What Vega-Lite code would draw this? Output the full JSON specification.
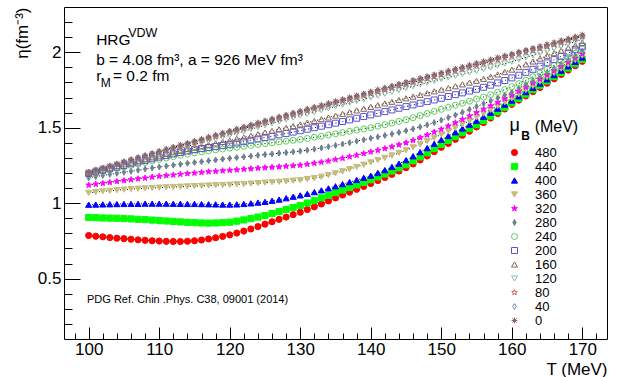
{
"$schema": "https://vega.github.io/schema/vega-lite/v6.json",
"width": 543,
"height": 332,
"autosize": {"type": "none"},
"padding": {"left": 64, "top": 7, "right": 10, "bottom": 38},
"background": "white",
"config": {
  "font": "Liberation Sans",
  "view": {"stroke": "#000000", "strokeWidth": 1},
  "axis": {"domain": false, "grid": false, "labelFont": "Liberation Sans", "labelFontSize": 17, "labelColor": "#000000", "tickColor": "#000000", "tickWidth": 1, "titleFont": "Liberation Sans", "titleFontSize": 17, "titleFontWeight": "normal", "titleColor": "#000000"},
  "legend": {"labelFont": "Liberation Sans", "labelFontSize": 13, "labelColor": "#000000", "symbolStrokeWidth": 1, "rowPadding": 0, "labelOffset": 14, "padding": 0, "labelLimit": 0}
},
"resolve": {"axis": {"x": "independent", "y": "independent"}},
"datasets": {
"curves": [
{"T":100,"mu":480,"eta":0.786},{"T":101,"mu":480,"eta":0.781},{"T":102,"mu":480,"eta":0.777},{"T":103,"mu":480,"eta":0.772},{"T":104,"mu":480,"eta":0.768},{"T":105,"mu":480,"eta":0.765},{"T":106,"mu":480,"eta":0.761},{"T":107,"mu":480,"eta":0.757},{"T":108,"mu":480,"eta":0.754},{"T":109,"mu":480,"eta":0.751},{"T":110,"mu":480,"eta":0.749},{"T":111,"mu":480,"eta":0.747},{"T":112,"mu":480,"eta":0.746},{"T":113,"mu":480,"eta":0.746},{"T":114,"mu":480,"eta":0.748},{"T":115,"mu":480,"eta":0.751},{"T":116,"mu":480,"eta":0.756},{"T":117,"mu":480,"eta":0.763},{"T":118,"mu":480,"eta":0.771},{"T":119,"mu":480,"eta":0.780},{"T":120,"mu":480,"eta":0.790},{"T":121,"mu":480,"eta":0.802},{"T":122,"mu":480,"eta":0.815},{"T":123,"mu":480,"eta":0.829},{"T":124,"mu":480,"eta":0.845},{"T":125,"mu":480,"eta":0.861},{"T":126,"mu":480,"eta":0.877},{"T":127,"mu":480,"eta":0.893},{"T":128,"mu":480,"eta":0.908},{"T":129,"mu":480,"eta":0.924},{"T":130,"mu":480,"eta":0.940},{"T":131,"mu":480,"eta":0.958},{"T":132,"mu":480,"eta":0.976},{"T":133,"mu":480,"eta":0.995},{"T":134,"mu":480,"eta":1.015},{"T":135,"mu":480,"eta":1.035},{"T":136,"mu":480,"eta":1.054},{"T":137,"mu":480,"eta":1.073},{"T":138,"mu":480,"eta":1.092},{"T":139,"mu":480,"eta":1.111},{"T":140,"mu":480,"eta":1.130},{"T":141,"mu":480,"eta":1.150},{"T":142,"mu":480,"eta":1.170},{"T":143,"mu":480,"eta":1.191},{"T":144,"mu":480,"eta":1.213},{"T":145,"mu":480,"eta":1.235},{"T":146,"mu":480,"eta":1.260},{"T":147,"mu":480,"eta":1.286},{"T":148,"mu":480,"eta":1.313},{"T":149,"mu":480,"eta":1.341},{"T":150,"mu":480,"eta":1.370},{"T":151,"mu":480,"eta":1.396},{"T":152,"mu":480,"eta":1.423},{"T":153,"mu":480,"eta":1.450},{"T":154,"mu":480,"eta":1.477},{"T":155,"mu":480,"eta":1.505},{"T":156,"mu":480,"eta":1.534},{"T":157,"mu":480,"eta":1.564},{"T":158,"mu":480,"eta":1.594},{"T":159,"mu":480,"eta":1.624},{"T":160,"mu":480,"eta":1.655},{"T":161,"mu":480,"eta":1.683},{"T":162,"mu":480,"eta":1.711},{"T":163,"mu":480,"eta":1.739},{"T":164,"mu":480,"eta":1.767},{"T":165,"mu":480,"eta":1.795},{"T":166,"mu":480,"eta":1.824},{"T":167,"mu":480,"eta":1.853},{"T":168,"mu":480,"eta":1.882},{"T":169,"mu":480,"eta":1.911},{"T":170,"mu":480,"eta":1.940},
{"T":100,"mu":440,"eta":0.905},{"T":101,"mu":440,"eta":0.904},{"T":102,"mu":440,"eta":0.902},{"T":103,"mu":440,"eta":0.901},{"T":104,"mu":440,"eta":0.900},{"T":105,"mu":440,"eta":0.898},{"T":106,"mu":440,"eta":0.896},{"T":107,"mu":440,"eta":0.893},{"T":108,"mu":440,"eta":0.891},{"T":109,"mu":440,"eta":0.888},{"T":110,"mu":440,"eta":0.885},{"T":111,"mu":440,"eta":0.882},{"T":112,"mu":440,"eta":0.879},{"T":113,"mu":440,"eta":0.876},{"T":114,"mu":440,"eta":0.873},{"T":115,"mu":440,"eta":0.871},{"T":116,"mu":440,"eta":0.869},{"T":117,"mu":440,"eta":0.868},{"T":118,"mu":440,"eta":0.869},{"T":119,"mu":440,"eta":0.871},{"T":120,"mu":440,"eta":0.874},{"T":121,"mu":440,"eta":0.881},{"T":122,"mu":440,"eta":0.889},{"T":123,"mu":440,"eta":0.898},{"T":124,"mu":440,"eta":0.908},{"T":125,"mu":440,"eta":0.918},{"T":126,"mu":440,"eta":0.931},{"T":127,"mu":440,"eta":0.944},{"T":128,"mu":440,"eta":0.958},{"T":129,"mu":440,"eta":0.971},{"T":130,"mu":440,"eta":0.985},{"T":131,"mu":440,"eta":1.001},{"T":132,"mu":440,"eta":1.018},{"T":133,"mu":440,"eta":1.035},{"T":134,"mu":440,"eta":1.052},{"T":135,"mu":440,"eta":1.070},{"T":136,"mu":440,"eta":1.087},{"T":137,"mu":440,"eta":1.104},{"T":138,"mu":440,"eta":1.121},{"T":139,"mu":440,"eta":1.138},{"T":140,"mu":440,"eta":1.155},{"T":141,"mu":440,"eta":1.174},{"T":142,"mu":440,"eta":1.193},{"T":143,"mu":440,"eta":1.213},{"T":144,"mu":440,"eta":1.234},{"T":145,"mu":440,"eta":1.255},{"T":146,"mu":440,"eta":1.281},{"T":147,"mu":440,"eta":1.307},{"T":148,"mu":440,"eta":1.334},{"T":149,"mu":440,"eta":1.362},{"T":150,"mu":440,"eta":1.390},{"T":151,"mu":440,"eta":1.416},{"T":152,"mu":440,"eta":1.442},{"T":153,"mu":440,"eta":1.468},{"T":154,"mu":440,"eta":1.494},{"T":155,"mu":440,"eta":1.520},{"T":156,"mu":440,"eta":1.548},{"T":157,"mu":440,"eta":1.577},{"T":158,"mu":440,"eta":1.606},{"T":159,"mu":440,"eta":1.635},{"T":160,"mu":440,"eta":1.665},{"T":161,"mu":440,"eta":1.694},{"T":162,"mu":440,"eta":1.723},{"T":163,"mu":440,"eta":1.752},{"T":164,"mu":440,"eta":1.781},{"T":165,"mu":440,"eta":1.810},{"T":166,"mu":440,"eta":1.839},{"T":167,"mu":440,"eta":1.867},{"T":168,"mu":440,"eta":1.896},{"T":169,"mu":440,"eta":1.924},{"T":170,"mu":440,"eta":1.953},
{"T":100,"mu":400,"eta":0.990},{"T":101,"mu":400,"eta":0.991},{"T":102,"mu":400,"eta":0.992},{"T":103,"mu":400,"eta":0.993},{"T":104,"mu":400,"eta":0.994},{"T":105,"mu":400,"eta":0.995},{"T":106,"mu":400,"eta":0.996},{"T":107,"mu":400,"eta":0.996},{"T":108,"mu":400,"eta":0.997},{"T":109,"mu":400,"eta":0.997},{"T":110,"mu":400,"eta":0.997},{"T":111,"mu":400,"eta":0.997},{"T":112,"mu":400,"eta":0.996},{"T":113,"mu":400,"eta":0.996},{"T":114,"mu":400,"eta":0.995},{"T":115,"mu":400,"eta":0.995},{"T":116,"mu":400,"eta":0.994},{"T":117,"mu":400,"eta":0.993},{"T":118,"mu":400,"eta":0.992},{"T":119,"mu":400,"eta":0.991},{"T":120,"mu":400,"eta":0.991},{"T":121,"mu":400,"eta":0.992},{"T":122,"mu":400,"eta":0.995},{"T":123,"mu":400,"eta":0.999},{"T":124,"mu":400,"eta":1.004},{"T":125,"mu":400,"eta":1.009},{"T":126,"mu":400,"eta":1.016},{"T":127,"mu":400,"eta":1.024},{"T":128,"mu":400,"eta":1.033},{"T":129,"mu":400,"eta":1.043},{"T":130,"mu":400,"eta":1.052},{"T":131,"mu":400,"eta":1.062},{"T":132,"mu":400,"eta":1.073},{"T":133,"mu":400,"eta":1.085},{"T":134,"mu":400,"eta":1.098},{"T":135,"mu":400,"eta":1.112},{"T":136,"mu":400,"eta":1.126},{"T":137,"mu":400,"eta":1.140},{"T":138,"mu":400,"eta":1.154},{"T":139,"mu":400,"eta":1.168},{"T":140,"mu":400,"eta":1.182},{"T":141,"mu":400,"eta":1.200},{"T":142,"mu":400,"eta":1.219},{"T":143,"mu":400,"eta":1.240},{"T":144,"mu":400,"eta":1.262},{"T":145,"mu":400,"eta":1.285},{"T":146,"mu":400,"eta":1.311},{"T":147,"mu":400,"eta":1.338},{"T":148,"mu":400,"eta":1.365},{"T":149,"mu":400,"eta":1.393},{"T":150,"mu":400,"eta":1.420},{"T":151,"mu":400,"eta":1.445},{"T":152,"mu":400,"eta":1.470},{"T":153,"mu":400,"eta":1.495},{"T":154,"mu":400,"eta":1.520},{"T":155,"mu":400,"eta":1.545},{"T":156,"mu":400,"eta":1.572},{"T":157,"mu":400,"eta":1.599},{"T":158,"mu":400,"eta":1.626},{"T":159,"mu":400,"eta":1.653},{"T":160,"mu":400,"eta":1.680},{"T":161,"mu":400,"eta":1.708},{"T":162,"mu":400,"eta":1.736},{"T":163,"mu":400,"eta":1.764},{"T":164,"mu":400,"eta":1.792},{"T":165,"mu":400,"eta":1.820},{"T":166,"mu":400,"eta":1.849},{"T":167,"mu":400,"eta":1.878},{"T":168,"mu":400,"eta":1.907},{"T":169,"mu":400,"eta":1.936},{"T":170,"mu":400,"eta":1.965},
{"T":100,"mu":360,"eta":1.068},{"T":101,"mu":360,"eta":1.073},{"T":102,"mu":360,"eta":1.078},{"T":103,"mu":360,"eta":1.082},{"T":104,"mu":360,"eta":1.086},{"T":105,"mu":360,"eta":1.090},{"T":106,"mu":360,"eta":1.093},{"T":107,"mu":360,"eta":1.096},{"T":108,"mu":360,"eta":1.098},{"T":109,"mu":360,"eta":1.101},{"T":110,"mu":360,"eta":1.103},{"T":111,"mu":360,"eta":1.105},{"T":112,"mu":360,"eta":1.107},{"T":113,"mu":360,"eta":1.109},{"T":114,"mu":360,"eta":1.111},{"T":115,"mu":360,"eta":1.113},{"T":116,"mu":360,"eta":1.115},{"T":117,"mu":360,"eta":1.117},{"T":118,"mu":360,"eta":1.119},{"T":119,"mu":360,"eta":1.120},{"T":120,"mu":360,"eta":1.122},{"T":121,"mu":360,"eta":1.125},{"T":122,"mu":360,"eta":1.127},{"T":123,"mu":360,"eta":1.130},{"T":124,"mu":360,"eta":1.133},{"T":125,"mu":360,"eta":1.136},{"T":126,"mu":360,"eta":1.139},{"T":127,"mu":360,"eta":1.142},{"T":128,"mu":360,"eta":1.145},{"T":129,"mu":360,"eta":1.149},{"T":130,"mu":360,"eta":1.153},{"T":131,"mu":360,"eta":1.159},{"T":132,"mu":360,"eta":1.166},{"T":133,"mu":360,"eta":1.175},{"T":134,"mu":360,"eta":1.186},{"T":135,"mu":360,"eta":1.198},{"T":136,"mu":360,"eta":1.211},{"T":137,"mu":360,"eta":1.225},{"T":138,"mu":360,"eta":1.240},{"T":139,"mu":360,"eta":1.255},{"T":140,"mu":360,"eta":1.270},{"T":141,"mu":360,"eta":1.285},{"T":142,"mu":360,"eta":1.300},{"T":143,"mu":360,"eta":1.316},{"T":144,"mu":360,"eta":1.333},{"T":145,"mu":360,"eta":1.351},{"T":146,"mu":360,"eta":1.370},{"T":147,"mu":360,"eta":1.390},{"T":148,"mu":360,"eta":1.411},{"T":149,"mu":360,"eta":1.433},{"T":150,"mu":360,"eta":1.455},{"T":151,"mu":360,"eta":1.477},{"T":152,"mu":360,"eta":1.500},{"T":153,"mu":360,"eta":1.523},{"T":154,"mu":360,"eta":1.546},{"T":155,"mu":360,"eta":1.570},{"T":156,"mu":360,"eta":1.594},{"T":157,"mu":360,"eta":1.619},{"T":158,"mu":360,"eta":1.644},{"T":159,"mu":360,"eta":1.669},{"T":160,"mu":360,"eta":1.695},{"T":161,"mu":360,"eta":1.722},{"T":162,"mu":360,"eta":1.750},{"T":163,"mu":360,"eta":1.778},{"T":164,"mu":360,"eta":1.806},{"T":165,"mu":360,"eta":1.835},{"T":166,"mu":360,"eta":1.863},{"T":167,"mu":360,"eta":1.892},{"T":168,"mu":360,"eta":1.920},{"T":169,"mu":360,"eta":1.949},{"T":170,"mu":360,"eta":1.978},
{"T":100,"mu":320,"eta":1.120},{"T":101,"mu":320,"eta":1.126},{"T":102,"mu":320,"eta":1.132},{"T":103,"mu":320,"eta":1.138},{"T":104,"mu":320,"eta":1.144},{"T":105,"mu":320,"eta":1.150},{"T":106,"mu":320,"eta":1.156},{"T":107,"mu":320,"eta":1.162},{"T":108,"mu":320,"eta":1.167},{"T":109,"mu":320,"eta":1.173},{"T":110,"mu":320,"eta":1.178},{"T":111,"mu":320,"eta":1.183},{"T":112,"mu":320,"eta":1.187},{"T":113,"mu":320,"eta":1.192},{"T":114,"mu":320,"eta":1.196},{"T":115,"mu":320,"eta":1.200},{"T":116,"mu":320,"eta":1.204},{"T":117,"mu":320,"eta":1.208},{"T":118,"mu":320,"eta":1.211},{"T":119,"mu":320,"eta":1.215},{"T":120,"mu":320,"eta":1.218},{"T":121,"mu":320,"eta":1.221},{"T":122,"mu":320,"eta":1.225},{"T":123,"mu":320,"eta":1.228},{"T":124,"mu":320,"eta":1.232},{"T":125,"mu":320,"eta":1.235},{"T":126,"mu":320,"eta":1.238},{"T":127,"mu":320,"eta":1.241},{"T":128,"mu":320,"eta":1.245},{"T":129,"mu":320,"eta":1.248},{"T":130,"mu":320,"eta":1.252},{"T":131,"mu":320,"eta":1.258},{"T":132,"mu":320,"eta":1.265},{"T":133,"mu":320,"eta":1.272},{"T":134,"mu":320,"eta":1.280},{"T":135,"mu":320,"eta":1.289},{"T":136,"mu":320,"eta":1.298},{"T":137,"mu":320,"eta":1.308},{"T":138,"mu":320,"eta":1.318},{"T":139,"mu":320,"eta":1.329},{"T":140,"mu":320,"eta":1.340},{"T":141,"mu":320,"eta":1.351},{"T":142,"mu":320,"eta":1.362},{"T":143,"mu":320,"eta":1.374},{"T":144,"mu":320,"eta":1.387},{"T":145,"mu":320,"eta":1.400},{"T":146,"mu":320,"eta":1.416},{"T":147,"mu":320,"eta":1.434},{"T":148,"mu":320,"eta":1.452},{"T":149,"mu":320,"eta":1.471},{"T":150,"mu":320,"eta":1.490},{"T":151,"mu":320,"eta":1.511},{"T":152,"mu":320,"eta":1.533},{"T":153,"mu":320,"eta":1.555},{"T":154,"mu":320,"eta":1.577},{"T":155,"mu":320,"eta":1.600},{"T":156,"mu":320,"eta":1.623},{"T":157,"mu":320,"eta":1.645},{"T":158,"mu":320,"eta":1.668},{"T":159,"mu":320,"eta":1.692},{"T":160,"mu":320,"eta":1.715},{"T":161,"mu":320,"eta":1.742},{"T":162,"mu":320,"eta":1.769},{"T":163,"mu":320,"eta":1.796},{"T":164,"mu":320,"eta":1.823},{"T":165,"mu":320,"eta":1.850},{"T":166,"mu":320,"eta":1.878},{"T":167,"mu":320,"eta":1.906},{"T":168,"mu":320,"eta":1.934},{"T":169,"mu":320,"eta":1.962},{"T":170,"mu":320,"eta":1.990},
{"T":100,"mu":280,"eta":1.168},{"T":101,"mu":280,"eta":1.176},{"T":102,"mu":280,"eta":1.184},{"T":103,"mu":280,"eta":1.191},{"T":104,"mu":280,"eta":1.198},{"T":105,"mu":280,"eta":1.205},{"T":106,"mu":280,"eta":1.212},{"T":107,"mu":280,"eta":1.219},{"T":108,"mu":280,"eta":1.226},{"T":109,"mu":280,"eta":1.233},{"T":110,"mu":280,"eta":1.240},{"T":111,"mu":280,"eta":1.246},{"T":112,"mu":280,"eta":1.252},{"T":113,"mu":280,"eta":1.258},{"T":114,"mu":280,"eta":1.264},{"T":115,"mu":280,"eta":1.270},{"T":116,"mu":280,"eta":1.275},{"T":117,"mu":280,"eta":1.281},{"T":118,"mu":280,"eta":1.286},{"T":119,"mu":280,"eta":1.292},{"T":120,"mu":280,"eta":1.297},{"T":121,"mu":280,"eta":1.302},{"T":122,"mu":280,"eta":1.307},{"T":123,"mu":280,"eta":1.312},{"T":124,"mu":280,"eta":1.317},{"T":125,"mu":280,"eta":1.322},{"T":126,"mu":280,"eta":1.326},{"T":127,"mu":280,"eta":1.331},{"T":128,"mu":280,"eta":1.335},{"T":129,"mu":280,"eta":1.340},{"T":130,"mu":280,"eta":1.345},{"T":131,"mu":280,"eta":1.351},{"T":132,"mu":280,"eta":1.358},{"T":133,"mu":280,"eta":1.366},{"T":134,"mu":280,"eta":1.374},{"T":135,"mu":280,"eta":1.383},{"T":136,"mu":280,"eta":1.392},{"T":137,"mu":280,"eta":1.401},{"T":138,"mu":280,"eta":1.411},{"T":139,"mu":280,"eta":1.420},{"T":140,"mu":280,"eta":1.430},{"T":141,"mu":280,"eta":1.439},{"T":142,"mu":280,"eta":1.449},{"T":143,"mu":280,"eta":1.459},{"T":144,"mu":280,"eta":1.469},{"T":145,"mu":280,"eta":1.480},{"T":146,"mu":280,"eta":1.492},{"T":147,"mu":280,"eta":1.505},{"T":148,"mu":280,"eta":1.519},{"T":149,"mu":280,"eta":1.534},{"T":150,"mu":280,"eta":1.550},{"T":151,"mu":280,"eta":1.567},{"T":152,"mu":280,"eta":1.584},{"T":153,"mu":280,"eta":1.602},{"T":154,"mu":280,"eta":1.621},{"T":155,"mu":280,"eta":1.640},{"T":156,"mu":280,"eta":1.659},{"T":157,"mu":280,"eta":1.678},{"T":158,"mu":280,"eta":1.697},{"T":159,"mu":280,"eta":1.716},{"T":160,"mu":280,"eta":1.735},{"T":161,"mu":280,"eta":1.761},{"T":162,"mu":280,"eta":1.787},{"T":163,"mu":280,"eta":1.813},{"T":164,"mu":280,"eta":1.839},{"T":165,"mu":280,"eta":1.865},{"T":166,"mu":280,"eta":1.893},{"T":167,"mu":280,"eta":1.921},{"T":168,"mu":280,"eta":1.949},{"T":169,"mu":280,"eta":1.977},{"T":170,"mu":280,"eta":2.005},
{"T":100,"mu":240,"eta":1.190},{"T":101,"mu":240,"eta":1.200},{"T":102,"mu":240,"eta":1.210},{"T":103,"mu":240,"eta":1.220},{"T":104,"mu":240,"eta":1.230},{"T":105,"mu":240,"eta":1.240},{"T":106,"mu":240,"eta":1.250},{"T":107,"mu":240,"eta":1.260},{"T":108,"mu":240,"eta":1.270},{"T":109,"mu":240,"eta":1.280},{"T":110,"mu":240,"eta":1.290},{"T":111,"mu":240,"eta":1.299},{"T":112,"mu":240,"eta":1.308},{"T":113,"mu":240,"eta":1.317},{"T":114,"mu":240,"eta":1.325},{"T":115,"mu":240,"eta":1.333},{"T":116,"mu":240,"eta":1.340},{"T":117,"mu":240,"eta":1.346},{"T":118,"mu":240,"eta":1.353},{"T":119,"mu":240,"eta":1.359},{"T":120,"mu":240,"eta":1.365},{"T":121,"mu":240,"eta":1.371},{"T":122,"mu":240,"eta":1.377},{"T":123,"mu":240,"eta":1.383},{"T":124,"mu":240,"eta":1.389},{"T":125,"mu":240,"eta":1.395},{"T":126,"mu":240,"eta":1.400},{"T":127,"mu":240,"eta":1.406},{"T":128,"mu":240,"eta":1.411},{"T":129,"mu":240,"eta":1.417},{"T":130,"mu":240,"eta":1.422},{"T":131,"mu":240,"eta":1.429},{"T":132,"mu":240,"eta":1.437},{"T":133,"mu":240,"eta":1.444},{"T":134,"mu":240,"eta":1.452},{"T":135,"mu":240,"eta":1.460},{"T":136,"mu":240,"eta":1.468},{"T":137,"mu":240,"eta":1.476},{"T":138,"mu":240,"eta":1.484},{"T":139,"mu":240,"eta":1.492},{"T":140,"mu":240,"eta":1.500},{"T":141,"mu":240,"eta":1.510},{"T":142,"mu":240,"eta":1.520},{"T":143,"mu":240,"eta":1.531},{"T":144,"mu":240,"eta":1.542},{"T":145,"mu":240,"eta":1.553},{"T":146,"mu":240,"eta":1.566},{"T":147,"mu":240,"eta":1.580},{"T":148,"mu":240,"eta":1.594},{"T":149,"mu":240,"eta":1.608},{"T":150,"mu":240,"eta":1.622},{"T":151,"mu":240,"eta":1.635},{"T":152,"mu":240,"eta":1.649},{"T":153,"mu":240,"eta":1.662},{"T":154,"mu":240,"eta":1.676},{"T":155,"mu":240,"eta":1.690},{"T":156,"mu":240,"eta":1.704},{"T":157,"mu":240,"eta":1.719},{"T":158,"mu":240,"eta":1.735},{"T":159,"mu":240,"eta":1.753},{"T":160,"mu":240,"eta":1.772},{"T":161,"mu":240,"eta":1.793},{"T":162,"mu":240,"eta":1.815},{"T":163,"mu":240,"eta":1.838},{"T":164,"mu":240,"eta":1.862},{"T":165,"mu":240,"eta":1.887},{"T":166,"mu":240,"eta":1.913},{"T":167,"mu":240,"eta":1.939},{"T":168,"mu":240,"eta":1.966},{"T":169,"mu":240,"eta":1.993},{"T":170,"mu":240,"eta":2.020},
{"T":100,"mu":200,"eta":1.196},{"T":101,"mu":200,"eta":1.207},{"T":102,"mu":200,"eta":1.218},{"T":103,"mu":200,"eta":1.228},{"T":104,"mu":200,"eta":1.239},{"T":105,"mu":200,"eta":1.250},{"T":106,"mu":200,"eta":1.261},{"T":107,"mu":200,"eta":1.272},{"T":108,"mu":200,"eta":1.283},{"T":109,"mu":200,"eta":1.294},{"T":110,"mu":200,"eta":1.305},{"T":111,"mu":200,"eta":1.315},{"T":112,"mu":200,"eta":1.326},{"T":113,"mu":200,"eta":1.336},{"T":114,"mu":200,"eta":1.346},{"T":115,"mu":200,"eta":1.355},{"T":116,"mu":200,"eta":1.362},{"T":117,"mu":200,"eta":1.369},{"T":118,"mu":200,"eta":1.376},{"T":119,"mu":200,"eta":1.383},{"T":120,"mu":200,"eta":1.390},{"T":121,"mu":200,"eta":1.399},{"T":122,"mu":200,"eta":1.408},{"T":123,"mu":200,"eta":1.417},{"T":124,"mu":200,"eta":1.426},{"T":125,"mu":200,"eta":1.435},{"T":126,"mu":200,"eta":1.444},{"T":127,"mu":200,"eta":1.453},{"T":128,"mu":200,"eta":1.462},{"T":129,"mu":200,"eta":1.471},{"T":130,"mu":200,"eta":1.480},{"T":131,"mu":200,"eta":1.490},{"T":132,"mu":200,"eta":1.500},{"T":133,"mu":200,"eta":1.510},{"T":134,"mu":200,"eta":1.520},{"T":135,"mu":200,"eta":1.530},{"T":136,"mu":200,"eta":1.541},{"T":137,"mu":200,"eta":1.552},{"T":138,"mu":200,"eta":1.563},{"T":139,"mu":200,"eta":1.574},{"T":140,"mu":200,"eta":1.585},{"T":141,"mu":200,"eta":1.596},{"T":142,"mu":200,"eta":1.607},{"T":143,"mu":200,"eta":1.618},{"T":144,"mu":200,"eta":1.629},{"T":145,"mu":200,"eta":1.640},{"T":146,"mu":200,"eta":1.651},{"T":147,"mu":200,"eta":1.662},{"T":148,"mu":200,"eta":1.673},{"T":149,"mu":200,"eta":1.684},{"T":150,"mu":200,"eta":1.695},{"T":151,"mu":200,"eta":1.707},{"T":152,"mu":200,"eta":1.719},{"T":153,"mu":200,"eta":1.731},{"T":154,"mu":200,"eta":1.743},{"T":155,"mu":200,"eta":1.755},{"T":156,"mu":200,"eta":1.768},{"T":157,"mu":200,"eta":1.782},{"T":158,"mu":200,"eta":1.797},{"T":159,"mu":200,"eta":1.813},{"T":160,"mu":200,"eta":1.830},{"T":161,"mu":200,"eta":1.848},{"T":162,"mu":200,"eta":1.867},{"T":163,"mu":200,"eta":1.887},{"T":164,"mu":200,"eta":1.908},{"T":165,"mu":200,"eta":1.930},{"T":166,"mu":200,"eta":1.951},{"T":167,"mu":200,"eta":1.973},{"T":168,"mu":200,"eta":1.995},{"T":169,"mu":200,"eta":2.017},{"T":170,"mu":200,"eta":2.040},
{"T":100,"mu":160,"eta":1.200},{"T":101,"mu":160,"eta":1.212},{"T":102,"mu":160,"eta":1.223},{"T":103,"mu":160,"eta":1.235},{"T":104,"mu":160,"eta":1.246},{"T":105,"mu":160,"eta":1.258},{"T":106,"mu":160,"eta":1.269},{"T":107,"mu":160,"eta":1.281},{"T":108,"mu":160,"eta":1.292},{"T":109,"mu":160,"eta":1.304},{"T":110,"mu":160,"eta":1.315},{"T":111,"mu":160,"eta":1.326},{"T":112,"mu":160,"eta":1.337},{"T":113,"mu":160,"eta":1.347},{"T":114,"mu":160,"eta":1.358},{"T":115,"mu":160,"eta":1.368},{"T":116,"mu":160,"eta":1.377},{"T":117,"mu":160,"eta":1.387},{"T":118,"mu":160,"eta":1.396},{"T":119,"mu":160,"eta":1.406},{"T":120,"mu":160,"eta":1.415},{"T":121,"mu":160,"eta":1.426},{"T":122,"mu":160,"eta":1.436},{"T":123,"mu":160,"eta":1.447},{"T":124,"mu":160,"eta":1.457},{"T":125,"mu":160,"eta":1.468},{"T":126,"mu":160,"eta":1.479},{"T":127,"mu":160,"eta":1.490},{"T":128,"mu":160,"eta":1.500},{"T":129,"mu":160,"eta":1.511},{"T":130,"mu":160,"eta":1.522},{"T":131,"mu":160,"eta":1.534},{"T":132,"mu":160,"eta":1.545},{"T":133,"mu":160,"eta":1.557},{"T":134,"mu":160,"eta":1.568},{"T":135,"mu":160,"eta":1.580},{"T":136,"mu":160,"eta":1.592},{"T":137,"mu":160,"eta":1.603},{"T":138,"mu":160,"eta":1.615},{"T":139,"mu":160,"eta":1.626},{"T":140,"mu":160,"eta":1.638},{"T":141,"mu":160,"eta":1.649},{"T":142,"mu":160,"eta":1.661},{"T":143,"mu":160,"eta":1.672},{"T":144,"mu":160,"eta":1.684},{"T":145,"mu":160,"eta":1.695},{"T":146,"mu":160,"eta":1.706},{"T":147,"mu":160,"eta":1.718},{"T":148,"mu":160,"eta":1.729},{"T":149,"mu":160,"eta":1.741},{"T":150,"mu":160,"eta":1.752},{"T":151,"mu":160,"eta":1.763},{"T":152,"mu":160,"eta":1.775},{"T":153,"mu":160,"eta":1.787},{"T":154,"mu":160,"eta":1.799},{"T":155,"mu":160,"eta":1.811},{"T":156,"mu":160,"eta":1.824},{"T":157,"mu":160,"eta":1.838},{"T":158,"mu":160,"eta":1.853},{"T":159,"mu":160,"eta":1.869},{"T":160,"mu":160,"eta":1.885},{"T":161,"mu":160,"eta":1.902},{"T":162,"mu":160,"eta":1.920},{"T":163,"mu":160,"eta":1.939},{"T":164,"mu":160,"eta":1.958},{"T":165,"mu":160,"eta":1.977},{"T":166,"mu":160,"eta":1.994},{"T":167,"mu":160,"eta":2.011},{"T":168,"mu":160,"eta":2.028},{"T":169,"mu":160,"eta":2.045},{"T":170,"mu":160,"eta":2.062},
{"T":100,"mu":120,"eta":1.203},{"T":101,"mu":120,"eta":1.216},{"T":102,"mu":120,"eta":1.228},{"T":103,"mu":120,"eta":1.241},{"T":104,"mu":120,"eta":1.253},{"T":105,"mu":120,"eta":1.266},{"T":106,"mu":120,"eta":1.278},{"T":107,"mu":120,"eta":1.291},{"T":108,"mu":120,"eta":1.303},{"T":109,"mu":120,"eta":1.316},{"T":110,"mu":120,"eta":1.328},{"T":111,"mu":120,"eta":1.340},{"T":112,"mu":120,"eta":1.352},{"T":113,"mu":120,"eta":1.365},{"T":114,"mu":120,"eta":1.377},{"T":115,"mu":120,"eta":1.389},{"T":116,"mu":120,"eta":1.401},{"T":117,"mu":120,"eta":1.413},{"T":118,"mu":120,"eta":1.426},{"T":119,"mu":120,"eta":1.438},{"T":120,"mu":120,"eta":1.450},{"T":121,"mu":120,"eta":1.463},{"T":122,"mu":120,"eta":1.476},{"T":123,"mu":120,"eta":1.490},{"T":124,"mu":120,"eta":1.503},{"T":125,"mu":120,"eta":1.516},{"T":126,"mu":120,"eta":1.529},{"T":127,"mu":120,"eta":1.541},{"T":128,"mu":120,"eta":1.554},{"T":129,"mu":120,"eta":1.567},{"T":130,"mu":120,"eta":1.580},{"T":131,"mu":120,"eta":1.592},{"T":132,"mu":120,"eta":1.604},{"T":133,"mu":120,"eta":1.616},{"T":134,"mu":120,"eta":1.628},{"T":135,"mu":120,"eta":1.640},{"T":136,"mu":120,"eta":1.652},{"T":137,"mu":120,"eta":1.664},{"T":138,"mu":120,"eta":1.676},{"T":139,"mu":120,"eta":1.688},{"T":140,"mu":120,"eta":1.700},{"T":141,"mu":120,"eta":1.712},{"T":142,"mu":120,"eta":1.725},{"T":143,"mu":120,"eta":1.737},{"T":144,"mu":120,"eta":1.750},{"T":145,"mu":120,"eta":1.762},{"T":146,"mu":120,"eta":1.774},{"T":147,"mu":120,"eta":1.786},{"T":148,"mu":120,"eta":1.798},{"T":149,"mu":120,"eta":1.810},{"T":150,"mu":120,"eta":1.822},{"T":151,"mu":120,"eta":1.833},{"T":152,"mu":120,"eta":1.844},{"T":153,"mu":120,"eta":1.855},{"T":154,"mu":120,"eta":1.866},{"T":155,"mu":120,"eta":1.877},{"T":156,"mu":120,"eta":1.888},{"T":157,"mu":120,"eta":1.900},{"T":158,"mu":120,"eta":1.912},{"T":159,"mu":120,"eta":1.925},{"T":160,"mu":120,"eta":1.938},{"T":161,"mu":120,"eta":1.952},{"T":162,"mu":120,"eta":1.966},{"T":163,"mu":120,"eta":1.980},{"T":164,"mu":120,"eta":1.995},{"T":165,"mu":120,"eta":2.010},{"T":166,"mu":120,"eta":2.025},{"T":167,"mu":120,"eta":2.040},{"T":168,"mu":120,"eta":2.055},{"T":169,"mu":120,"eta":2.070},{"T":170,"mu":120,"eta":2.085},
{"T":100,"mu":80,"eta":1.205},{"T":101,"mu":80,"eta":1.218},{"T":102,"mu":80,"eta":1.231},{"T":103,"mu":80,"eta":1.245},{"T":104,"mu":80,"eta":1.258},{"T":105,"mu":80,"eta":1.271},{"T":106,"mu":80,"eta":1.284},{"T":107,"mu":80,"eta":1.297},{"T":108,"mu":80,"eta":1.311},{"T":109,"mu":80,"eta":1.324},{"T":110,"mu":80,"eta":1.337},{"T":111,"mu":80,"eta":1.350},{"T":112,"mu":80,"eta":1.363},{"T":113,"mu":80,"eta":1.376},{"T":114,"mu":80,"eta":1.389},{"T":115,"mu":80,"eta":1.402},{"T":116,"mu":80,"eta":1.415},{"T":117,"mu":80,"eta":1.428},{"T":118,"mu":80,"eta":1.442},{"T":119,"mu":80,"eta":1.455},{"T":120,"mu":80,"eta":1.468},{"T":121,"mu":80,"eta":1.481},{"T":122,"mu":80,"eta":1.494},{"T":123,"mu":80,"eta":1.508},{"T":124,"mu":80,"eta":1.521},{"T":125,"mu":80,"eta":1.534},{"T":126,"mu":80,"eta":1.547},{"T":127,"mu":80,"eta":1.560},{"T":128,"mu":80,"eta":1.572},{"T":129,"mu":80,"eta":1.585},{"T":130,"mu":80,"eta":1.598},{"T":131,"mu":80,"eta":1.611},{"T":132,"mu":80,"eta":1.624},{"T":133,"mu":80,"eta":1.636},{"T":134,"mu":80,"eta":1.649},{"T":135,"mu":80,"eta":1.662},{"T":136,"mu":80,"eta":1.675},{"T":137,"mu":80,"eta":1.687},{"T":138,"mu":80,"eta":1.700},{"T":139,"mu":80,"eta":1.712},{"T":140,"mu":80,"eta":1.725},{"T":141,"mu":80,"eta":1.737},{"T":142,"mu":80,"eta":1.750},{"T":143,"mu":80,"eta":1.762},{"T":144,"mu":80,"eta":1.775},{"T":145,"mu":80,"eta":1.787},{"T":146,"mu":80,"eta":1.800},{"T":147,"mu":80,"eta":1.812},{"T":148,"mu":80,"eta":1.825},{"T":149,"mu":80,"eta":1.837},{"T":150,"mu":80,"eta":1.850},{"T":151,"mu":80,"eta":1.862},{"T":152,"mu":80,"eta":1.875},{"T":153,"mu":80,"eta":1.887},{"T":154,"mu":80,"eta":1.900},{"T":155,"mu":80,"eta":1.912},{"T":156,"mu":80,"eta":1.924},{"T":157,"mu":80,"eta":1.937},{"T":158,"mu":80,"eta":1.949},{"T":159,"mu":80,"eta":1.962},{"T":160,"mu":80,"eta":1.974},{"T":161,"mu":80,"eta":1.987},{"T":162,"mu":80,"eta":2.000},{"T":163,"mu":80,"eta":2.012},{"T":164,"mu":80,"eta":2.025},{"T":165,"mu":80,"eta":2.038},{"T":166,"mu":80,"eta":2.051},{"T":167,"mu":80,"eta":2.064},{"T":168,"mu":80,"eta":2.078},{"T":169,"mu":80,"eta":2.091},{"T":170,"mu":80,"eta":2.104},
{"T":100,"mu":40,"eta":1.206},{"T":101,"mu":40,"eta":1.220},{"T":102,"mu":40,"eta":1.233},{"T":103,"mu":40,"eta":1.247},{"T":104,"mu":40,"eta":1.260},{"T":105,"mu":40,"eta":1.274},{"T":106,"mu":40,"eta":1.288},{"T":107,"mu":40,"eta":1.301},{"T":108,"mu":40,"eta":1.315},{"T":109,"mu":40,"eta":1.328},{"T":110,"mu":40,"eta":1.342},{"T":111,"mu":40,"eta":1.355},{"T":112,"mu":40,"eta":1.369},{"T":113,"mu":40,"eta":1.382},{"T":114,"mu":40,"eta":1.396},{"T":115,"mu":40,"eta":1.409},{"T":116,"mu":40,"eta":1.422},{"T":117,"mu":40,"eta":1.436},{"T":118,"mu":40,"eta":1.449},{"T":119,"mu":40,"eta":1.462},{"T":120,"mu":40,"eta":1.475},{"T":121,"mu":40,"eta":1.488},{"T":122,"mu":40,"eta":1.502},{"T":123,"mu":40,"eta":1.515},{"T":124,"mu":40,"eta":1.529},{"T":125,"mu":40,"eta":1.542},{"T":126,"mu":40,"eta":1.555},{"T":127,"mu":40,"eta":1.568},{"T":128,"mu":40,"eta":1.581},{"T":129,"mu":40,"eta":1.594},{"T":130,"mu":40,"eta":1.607},{"T":131,"mu":40,"eta":1.620},{"T":132,"mu":40,"eta":1.633},{"T":133,"mu":40,"eta":1.645},{"T":134,"mu":40,"eta":1.658},{"T":135,"mu":40,"eta":1.671},{"T":136,"mu":40,"eta":1.684},{"T":137,"mu":40,"eta":1.697},{"T":138,"mu":40,"eta":1.709},{"T":139,"mu":40,"eta":1.722},{"T":140,"mu":40,"eta":1.735},{"T":141,"mu":40,"eta":1.747},{"T":142,"mu":40,"eta":1.760},{"T":143,"mu":40,"eta":1.772},{"T":144,"mu":40,"eta":1.785},{"T":145,"mu":40,"eta":1.797},{"T":146,"mu":40,"eta":1.810},{"T":147,"mu":40,"eta":1.822},{"T":148,"mu":40,"eta":1.835},{"T":149,"mu":40,"eta":1.847},{"T":150,"mu":40,"eta":1.860},{"T":151,"mu":40,"eta":1.872},{"T":152,"mu":40,"eta":1.885},{"T":153,"mu":40,"eta":1.897},{"T":154,"mu":40,"eta":1.910},{"T":155,"mu":40,"eta":1.922},{"T":156,"mu":40,"eta":1.934},{"T":157,"mu":40,"eta":1.947},{"T":158,"mu":40,"eta":1.959},{"T":159,"mu":40,"eta":1.972},{"T":160,"mu":40,"eta":1.984},{"T":161,"mu":40,"eta":1.997},{"T":162,"mu":40,"eta":2.009},{"T":163,"mu":40,"eta":2.022},{"T":164,"mu":40,"eta":2.034},{"T":165,"mu":40,"eta":2.047},{"T":166,"mu":40,"eta":2.060},{"T":167,"mu":40,"eta":2.073},{"T":168,"mu":40,"eta":2.085},{"T":169,"mu":40,"eta":2.098},{"T":170,"mu":40,"eta":2.111},
{"T":100,"mu":0,"eta":1.207},{"T":101,"mu":0,"eta":1.221},{"T":102,"mu":0,"eta":1.235},{"T":103,"mu":0,"eta":1.248},{"T":104,"mu":0,"eta":1.262},{"T":105,"mu":0,"eta":1.276},{"T":106,"mu":0,"eta":1.290},{"T":107,"mu":0,"eta":1.304},{"T":108,"mu":0,"eta":1.317},{"T":109,"mu":0,"eta":1.331},{"T":110,"mu":0,"eta":1.345},{"T":111,"mu":0,"eta":1.359},{"T":112,"mu":0,"eta":1.372},{"T":113,"mu":0,"eta":1.386},{"T":114,"mu":0,"eta":1.399},{"T":115,"mu":0,"eta":1.413},{"T":116,"mu":0,"eta":1.426},{"T":117,"mu":0,"eta":1.440},{"T":118,"mu":0,"eta":1.453},{"T":119,"mu":0,"eta":1.467},{"T":120,"mu":0,"eta":1.480},{"T":121,"mu":0,"eta":1.493},{"T":122,"mu":0,"eta":1.507},{"T":123,"mu":0,"eta":1.520},{"T":124,"mu":0,"eta":1.534},{"T":125,"mu":0,"eta":1.547},{"T":126,"mu":0,"eta":1.560},{"T":127,"mu":0,"eta":1.573},{"T":128,"mu":0,"eta":1.586},{"T":129,"mu":0,"eta":1.599},{"T":130,"mu":0,"eta":1.612},{"T":131,"mu":0,"eta":1.625},{"T":132,"mu":0,"eta":1.638},{"T":133,"mu":0,"eta":1.650},{"T":134,"mu":0,"eta":1.663},{"T":135,"mu":0,"eta":1.676},{"T":136,"mu":0,"eta":1.689},{"T":137,"mu":0,"eta":1.702},{"T":138,"mu":0,"eta":1.714},{"T":139,"mu":0,"eta":1.727},{"T":140,"mu":0,"eta":1.740},{"T":141,"mu":0,"eta":1.753},{"T":142,"mu":0,"eta":1.765},{"T":143,"mu":0,"eta":1.778},{"T":144,"mu":0,"eta":1.790},{"T":145,"mu":0,"eta":1.803},{"T":146,"mu":0,"eta":1.816},{"T":147,"mu":0,"eta":1.828},{"T":148,"mu":0,"eta":1.841},{"T":149,"mu":0,"eta":1.853},{"T":150,"mu":0,"eta":1.866},{"T":151,"mu":0,"eta":1.879},{"T":152,"mu":0,"eta":1.891},{"T":153,"mu":0,"eta":1.904},{"T":154,"mu":0,"eta":1.916},{"T":155,"mu":0,"eta":1.929},{"T":156,"mu":0,"eta":1.941},{"T":157,"mu":0,"eta":1.953},{"T":158,"mu":0,"eta":1.966},{"T":159,"mu":0,"eta":1.978},{"T":160,"mu":0,"eta":1.990},{"T":161,"mu":0,"eta":2.003},{"T":162,"mu":0,"eta":2.015},{"T":163,"mu":0,"eta":2.028},{"T":164,"mu":0,"eta":2.040},{"T":165,"mu":0,"eta":2.053},{"T":166,"mu":0,"eta":2.066},{"T":167,"mu":0,"eta":2.079},{"T":168,"mu":0,"eta":2.091},{"T":169,"mu":0,"eta":2.104},{"T":170,"mu":0,"eta":2.117}
]
},
"layer": [
{
  "data": {"name": "curves"},
  "mark": {"type": "line", "color": "#000000", "strokeWidth": 1, "strokeDash": [1, 2.5]},
  "encoding": {
    "x": {"field": "T", "type": "quantitative", "scale": {"domain": [96.5, 173.5], "nice": false, "zero": false}, "axis": null},
    "y": {"field": "eta", "type": "quantitative", "scale": {"domain": [0.1, 2.3], "nice": false, "zero": false}, "axis": null},
    "detail": {"field": "mu", "type": "nominal"}
  }
},
{
  "data": {"name": "curves"},
  "mark": {"type": "point", "filled": false, "opacity": 1},
  "encoding": {
    "x": {"field": "T", "type": "quantitative", "scale": {"domain": [96.5, 173.5], "nice": false, "zero": false},
      "axis": {"orient": "bottom", "title": "T (MeV)", "values": [98,100,102,104,106,108,110,112,114,116,118,120,122,124,126,128,130,132,134,136,138,140,142,144,146,148,150,152,154,156,158,160,162,164,166,168,170,172],
        "labelExpr": "datum.value % 10 === 0 ? datum.label : ''",
        "tickSize": {"condition": {"test": "datum.value % 10 === 0", "value": -12}, "value": -6},
        "labelPadding": 14, "labelOverlap": false, "titleAnchor": "end", "titleBaseline": "alphabetic", "titleY": 35}},
    "y": {"field": "eta", "type": "quantitative", "scale": {"domain": [0.1, 2.3], "nice": false, "zero": false},
      "axis": {"orient": "left", "title": "η(fm⁻³)", "values": [0.2,0.3,0.4,0.5,0.6,0.7,0.8,0.9,1.0,1.1,1.2,1.3,1.4,1.5,1.6,1.7,1.8,1.9,2.0,2.1,2.2],
        "format": "~g",
        "labelExpr": "abs(datum.value * 2 - round(datum.value * 2)) < 0.001 ? datum.label : ''",
        "tickSize": {"condition": {"test": "abs(datum.value * 2 - round(datum.value * 2)) < 0.001", "value": -16}, "value": -8},
        "labelPadding": 19, "labelOverlap": false, "titleAnchor": "end", "titlePadding": 6}},
    "shape": {"field": "mu", "type": "nominal",
      "scale": {"domain": [480,440,400,360,320,280,240,200,160,120,80,40,0],
        "range": ["circle","square","triangle-up","triangle-down",
          "M0,-1L0.235,-0.324L0.951,-0.309L0.38,0.124L0.588,0.809L0,0.4L-0.588,0.809L-0.38,0.124L-0.951,-0.309L-0.235,-0.324Z",
          "M0,-1L0.55,0L0,1L-0.55,0Z",
          "circle","square","triangle-up","triangle-down",
          "M0,-1L0.235,-0.324L0.951,-0.309L0.38,0.124L0.588,0.809L0,0.4L-0.588,0.809L-0.38,0.124L-0.951,-0.309L-0.235,-0.324Z",
          "M0,-1L0.6,0L0,1L-0.6,0Z",
          "M-1,0L1,0M0,-1L0,1M-0.72,-0.72L0.72,0.72M-0.72,0.72L0.72,-0.72"]},
      "legend": {"title": null, "orient": "none", "legendX": 444, "legendY": 139}},
    "fill": {"field": "mu", "type": "nominal",
      "scale": {"domain": [480,440,400,360,320,280,240,200,160,120,80,40,0],
        "range": ["#ff0000","#00ff00","#0000ff","#c5bd7b","#ff00ff","#6f8190","transparent","transparent","transparent","transparent","transparent","transparent","transparent"]},
      "legend": {"title": null, "orient": "none", "legendX": 444, "legendY": 139}},
    "stroke": {"field": "mu", "type": "nominal",
      "scale": {"domain": [480,440,400,360,320,280,240,200,160,120,80,40,0],
        "range": ["#ff0000","#00ff00","#0000ff","#c5bd7b","#ff00ff","#6f8190","#59d454","#5954d8","#876656","#85c2a3","#cf5e61","#6f86a8","#8a6266"]},
      "legend": {"title": null, "orient": "none", "legendX": 444, "legendY": 139}},
    "strokeWidth": {"field": "mu", "type": "nominal",
      "scale": {"domain": [480,440,400,360,320,280,240,200,160,120,80,40,0],
        "range": [1,1,1,1,1,1,1,1,1,1,1,1,1.7]},
      "legend": {"title": null, "orient": "none", "legendX": 444, "legendY": 139}},
    "size": {"field": "mu", "type": "nominal",
      "scale": {"domain": [480,440,400,360,320,280,240,200,160,120,80,40,0],
        "range": [38,34,38,38,64,81,36,34,38,38,64,64,64]},
      "legend": {"title": null, "orient": "none", "legendX": 444, "legendY": 139}}
  }
},
{"data": {"values": [{}]}, "mark": {"type": "text", "text": "HRG", "align": "left", "baseline": "alphabetic", "fontSize": 15.5, "font": "Liberation Sans", "color": "#000000"}, "encoding": {"x": {"datum": 101.06, "type": "quantitative", "axis": null}, "y": {"datum": 2.051, "type": "quantitative", "axis": null}}},
{"data": {"values": [{}]}, "mark": {"type": "text", "text": "VDW", "align": "left", "baseline": "alphabetic", "fontSize": 12.5, "font": "Liberation Sans", "color": "#000000"}, "encoding": {"x": {"datum": 105.6, "type": "quantitative", "axis": null}, "y": {"datum": 2.104, "type": "quantitative", "axis": null}}},
{"data": {"values": [{}]}, "mark": {"type": "text", "text": "b = 4.08 fm³, a = 926 MeV fm³", "align": "left", "baseline": "alphabetic", "fontSize": 15.5, "font": "Liberation Sans", "color": "#000000"}, "encoding": {"x": {"datum": 101.06, "type": "quantitative", "axis": null}, "y": {"datum": 1.914, "type": "quantitative", "axis": null}}},
{"data": {"values": [{}]}, "mark": {"type": "text", "text": "r", "align": "left", "baseline": "alphabetic", "fontSize": 15.5, "font": "Liberation Sans", "color": "#000000"}, "encoding": {"x": {"datum": 101.06, "type": "quantitative", "axis": null}, "y": {"datum": 1.812, "type": "quantitative", "axis": null}}},
{"data": {"values": [{}]}, "mark": {"type": "text", "text": "M", "align": "left", "baseline": "alphabetic", "fontSize": 12, "font": "Liberation Sans", "color": "#000000"}, "encoding": {"x": {"datum": 101.7, "type": "quantitative", "axis": null}, "y": {"datum": 1.773, "type": "quantitative", "axis": null}}},
{"data": {"values": [{}]}, "mark": {"type": "text", "text": "= 0.2 fm", "align": "left", "baseline": "alphabetic", "fontSize": 15.5, "font": "Liberation Sans", "color": "#000000"}, "encoding": {"x": {"datum": 103.45, "type": "quantitative", "axis": null}, "y": {"datum": 1.812, "type": "quantitative", "axis": null}}},
{"data": {"values": [{}]}, "mark": {"type": "text", "text": "PDG Ref. Chin .Phys. C38, 09001 (2014)", "align": "left", "baseline": "alphabetic", "fontSize": 11, "font": "Liberation Sans", "color": "#000000"}, "encoding": {"x": {"datum": 99.76, "type": "quantitative", "axis": null}, "y": {"datum": 0.339, "type": "quantitative", "axis": null}}},
{"data": {"values": [{}]}, "mark": {"type": "text", "text": "μ", "align": "left", "baseline": "alphabetic", "fontSize": 18, "font": "Liberation Sans", "color": "#000000"}, "encoding": {"x": {"datum": 159.69, "type": "quantitative", "axis": null}, "y": {"datum": 1.476, "type": "quantitative", "axis": null}}},
{"data": {"values": [{}]}, "mark": {"type": "text", "text": "B", "align": "left", "baseline": "alphabetic", "fontSize": 12, "fontWeight": "bold", "font": "Liberation Sans", "color": "#000000"}, "encoding": {"x": {"datum": 161.35, "type": "quantitative", "axis": null}, "y": {"datum": 1.421, "type": "quantitative", "axis": null}}},
{"data": {"values": [{}]}, "mark": {"type": "text", "text": "(MeV)", "align": "left", "baseline": "alphabetic", "fontSize": 16, "font": "Liberation Sans", "color": "#000000"}, "encoding": {"x": {"datum": 163.24, "type": "quantitative", "axis": null}, "y": {"datum": 1.474, "type": "quantitative", "axis": null}}}
]
}
